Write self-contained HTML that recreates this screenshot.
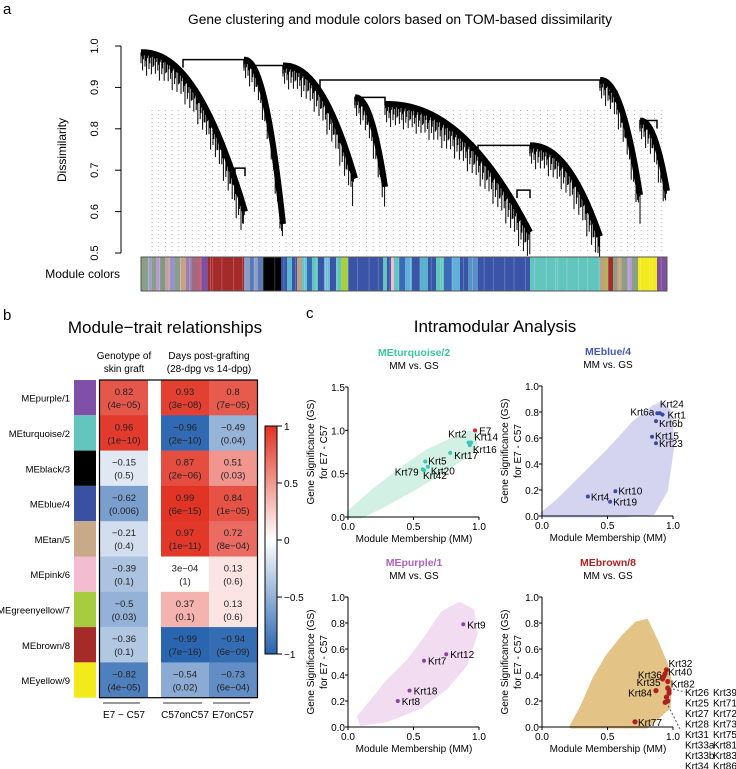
<!DOCTYPE html>
<html><head><meta charset="utf-8"><style>
html,body{margin:0;padding:0;background:#fff}
svg{display:block;font-family:"Liberation Sans",sans-serif}
</style></head><body>
<svg id="fig" width="736" height="769" viewBox="0 0 736 769" xmlns="http://www.w3.org/2000/svg">
<g id="panelA">
 <text x="3" y="14" font-size="15">a</text>
 <text x="400" y="24" font-size="13.5" text-anchor="middle" textLength="424" lengthAdjust="spacingAndGlyphs">Gene clustering and module colors based on TOM-based dissimilarity</text>
 <text transform="translate(66,150) rotate(-90)" font-size="12" text-anchor="middle">Dissimilarity</text>
 <text x="120" y="278" font-size="12" text-anchor="end">Module colors</text>
 <g id="dendAxis"></g><g id="dotted"></g><g id="dend"></g><g id="modbar"></g>
</g>
<g id="panelB">
 <text x="3" y="320" font-size="15">b</text>
 <text x="165" y="333" font-size="17" text-anchor="middle">Module−trait relationships</text>
 <text x="124" y="359" font-size="10" text-anchor="middle">Genotype of</text>
 <text x="124" y="372" font-size="10" text-anchor="middle">skin graft</text>
 <text x="209" y="359" font-size="10" text-anchor="middle">Days post-grafting</text>
 <text x="209" y="372" font-size="10" text-anchor="middle">(28-dpg vs 14-dpg)</text>
 <g id="heat"></g><g id="cbar"></g>
</g>
<g id="panelC">
 <text x="306" y="318" font-size="15">c</text>
 <text x="495" y="332" font-size="17" text-anchor="middle">Intramodular Analysis</text>
 <g id="scatters"></g>
</g>
</svg>
<script>
// ---------- Dendrogram data ----------
const dendTicks=[0.5,0.6,0.7,0.8,0.9,1.0];
const clusterX0=[141,244,283,355,385,530,600,640];
const clusterX1=[245,283,355,385,530,600,640,667];
const clusterTop=[0.985,0.967,0.953,0.876,0.86,0.76,0.918,0.82];
const clusterBot=[0.60,0.57,0.68,0.66,0.55,0.54,0.64,0.65];
const mergeXa=[183,255,320,355,478,517,610,640,235];
const mergeXb=[244,283,600,385,530,530,617,657,245];
const mergeH=[0.967,0.953,0.918,0.876,0.76,0.652,0.89,0.82,0.705];
const modStart=[141,148,152,156,160,165,170,175,180,186,192,197,201,208,244,250,254,258,263,281,287,292,297,302,307,312,318,324,330,336,341,348,383,387,391,394,399,405,412,420,428,436,444,452,460,468,478,530,600,604,608,613,617,622,627,632,638,657];
const modColor=["#8aa084","#9fa0c8","#8aa084","#b99ad0","#7f9a80","#c0a0a0","#9b92c8","#85a08a","#c9a08a","#9a80b0","#a06a80","#c06070","#7f4fa0","#a52a2a","#8a9ec8","#5a78b8","#8a9ec8","#5a78b8","#000000","#3a55a8","#5cb8d0","#3a55a8","#c0a080","#62c6d0","#3a6ab8","#62c6be","#3a55a8","#70b8d8","#3a55a8","#62c6be","#a8d040","#3a55a8","#62c6be","#3a55a8","#f4bcd0","#62c6be","#3a6ab8","#62b0d8","#3a55a8","#5cb0d0","#3a55a8","#62c6be","#3a6ab8","#62b0d8","#3a55a8","#5a90c8","#3a55a8","#62c6be","#c0a080","#b0b060","#a52a2a","#8aa084","#c0a080","#8aa084","#b99ad0","#8aa084","#f2ea1a","#7f4fa0"];

// ---------- Heatmap data ----------
const modules=["MEpurple/1","MEturquoise/2","MEblack/3","MEblue/4","MEtan/5","MEpink/6","MEgreenyellow/7","MEbrown/8","MEyellow/9"];
const moduleSwatch=["#8050a8","#62c6be","#000000","#3a50a0","#c8aa88","#f4bcd0","#a8cc40","#a52a2a","#f2ea1a"];
const traits=["E7 − C57","C57onC57","E7onC57"];
const corrE7=[0.82,0.96,-0.15,-0.62,-0.21,-0.39,-0.5,-0.36,-0.82];
const corrC57=[0.93,-0.96,0.87,0.99,0.97,0.0003,0.37,-0.99,-0.54];
const corrE7on=[0.8,-0.49,0.51,0.84,0.72,0.13,0.13,-0.94,-0.73];
const labE7=["0.82","0.96","−0.15","−0.62","−0.21","−0.39","−0.5","−0.36","−0.82"];
const labC57=["0.93","−0.96","0.87","0.99","0.97","3e−04","0.37","−0.99","−0.54"];
const labE7on=["0.8","−0.49","0.51","0.84","0.72","0.13","0.13","−0.94","−0.73"];
const pE7=["(4e−05)","(1e−10)","(0.5)","(0.006)","(0.4)","(0.1)","(0.03)","(0.1)","(4e−05)"];
const pC57=["(3e−08)","(2e−10)","(2e−06)","(6e−15)","(1e−11)","(1)","(0.1)","(7e−16)","(0.02)"];
const pE7on=["(7e−05)","(0.04)","(0.03)","(1e−05)","(8e−04)","(0.6)","(0.6)","(6e−09)","(6e−04)"];
const cbarTicks=[1,0.5,0,-0.5,-1];
const cbarLabels=["1","0.5","0","−0.5","−1"];

// ---------- Scatter data ----------
const turqName=["E7","Krt2","Krt14","Krt16","Krt17","Krt5","Krt20","Krt79","Krt42"];
const turqMM=[0.97,0.92,0.94,0.93,0.78,0.59,0.61,0.57,0.58];
const turqGS=[1.0,0.86,0.86,0.83,0.74,0.64,0.58,0.55,0.54];
const blueName=["Krt24","Krt6a","Krt1","Krt6b","Krt15","Krt23","Krt10","Krt4","Krt19"];
const blueMM=[0.9,0.88,0.92,0.87,0.84,0.87,0.56,0.35,0.52];
const blueGS=[0.79,0.79,0.78,0.73,0.61,0.56,0.19,0.15,0.11];
const purpName=["Krt9","Krt12","Krt7","Krt18","Krt8"];
const purpMM=[0.88,0.75,0.58,0.47,0.38];
const purpGS=[0.79,0.56,0.51,0.28,0.2];
const brownName=["Krt32","Krt40","Krt82","Krt36","Krt35","Krt84","Krt77","","","","","",""];
const brownMM=[0.95,0.94,0.96,0.93,0.92,0.87,0.71,0.96,0.97,0.95,0.96,0.94,0.97];
const brownGS=[0.44,0.41,0.35,0.39,0.37,0.28,0.04,0.30,0.26,0.23,0.20,0.19,0.28];
const brownList=["Krt26","Krt25","Krt27","Krt28","Krt31","Krt33a","Krt33b","Krt34","Krt39","Krt71","Krt72","Krt73","Krt75","Krt81","Krt83","Krt86"];
const turqCloudMM=[0.0,0.1,0.3,0.5,0.7,0.9,0.97,0.98,0.9,0.8,0.6,0.4,0.2,0.05,0.0];
const turqCloudGS=[0.0,0.0,0.15,0.32,0.5,0.7,0.8,0.98,0.97,0.9,0.76,0.55,0.32,0.12,0.05];
const blueCloudMM=[0.02,0.3,0.6,0.85,0.95,1.0,0.98,0.92,0.85,0.7,0.5,0.3,0.12,0.0];
const blueCloudGS=[0.0,0.0,0.0,0.02,0.2,0.55,0.8,0.87,0.84,0.72,0.5,0.3,0.12,0.02];
const purpCloudMM=[0.1,0.3,0.55,0.75,0.9,0.98,0.95,0.85,0.72,0.6,0.45,0.3,0.18,0.08];
const purpCloudGS=[0.02,0.05,0.15,0.3,0.48,0.72,0.9,0.95,0.88,0.7,0.5,0.35,0.2,0.08];
const brownCloudMM=[0.22,0.5,0.8,0.97,0.98,0.95,0.88,0.8,0.72,0.62,0.5,0.4,0.3];
const brownCloudGS=[0.0,0.0,0.0,0.15,0.35,0.48,0.65,0.82,0.8,0.7,0.55,0.38,0.15];

const NS="http://www.w3.org/2000/svg";
function mk(tag,attrs,parent,txt){const e=document.createElementNS(NS,tag);for(const k in attrs)e.setAttribute(k,attrs[k]);if(txt!==undefined)e.textContent=txt;parent.appendChild(e);return e;}

// ---------- Dendrogram ----------
const dy=h=>46+(1-h)/0.5*207;
const gAx=document.getElementById('dendAxis');
let ax=mk('line',{x1:121,x2:121,y1:dy(1),y2:dy(0.5),stroke:'#000'},gAx);


dendTicks.forEach(t=>{
 let l=mk('line',{x1:115,x2:121,y1:dy(t),y2:dy(t),stroke:'#000'},gAx);
 
 
 let tx=mk('text',{transform:`translate(98,${dy(t)}) rotate(-90)`,'font-size':11,'text-anchor':'middle'},gAx,t.toFixed(1));
 
 
});
const gDot=document.getElementById('dotted');
for(let x=152;x<=667;x+=6.7){
 let l=mk('line',{x1:x,x2:x,y1:110,y2:252,stroke:'#888','stroke-width':0.6,'stroke-dasharray':'1,3'},gDot);
 
 
}
const gD=document.getElementById('dend');
const spikes=[22,8,36,14,5,28,17,45,11,4,31,20,9,40,6,25];
clusterX0.forEach((x0,i)=>{
 const x1=clusterX1[i],h0=clusterTop[i],h1=clusterBot[i];
 const hc=t=>h0-(h0-h1)*Math.pow(t,2.2);
 let d='',k=0;
 for(let x=x0;x<=x1;x+=0.8){const t=(x-x0)/(x1-x0);const y=dy(hc(t));d+=`M${x.toFixed(1)},${y.toFixed(1)}v${(spikes[k++%spikes.length]*(0.5+t*0.3)).toFixed(1)}`;}
 let sp=mk('path',{d,stroke:'#000','stroke-width':1,fill:'none'},gD);
 
 
 let c='';for(let x=x0;x<=x1;x+=1){const t=(x-x0)/(x1-x0);c+=(x===x0?'M':'L')+x+','+dy(hc(t)).toFixed(1);}
 let cp=mk('path',{d:c,stroke:'#000','stroke-width':6,fill:'none'},gD);
 
 
});
mergeXa.forEach((xa,i)=>{
 let l=mk('path',{d:`M${xa},${dy(mergeH[i])+8}V${dy(mergeH[i])}H${mergeXb[i]}V${dy(mergeH[i])+8}`,stroke:'#000','stroke-width':1.5,fill:'none'},gD);
 
 
});
const gM=document.getElementById('modbar');
modStart.forEach((x,i)=>{
 const xe=i<modStart.length-1?modStart[i+1]:667;
 let r=mk('rect',{x,y:257,width:xe-x,height:34,fill:modColor[i]},gM);
 
 
});
for(let x=141;x<667;x+=2.3){if((x*7)%5<1.2){let s=mk('rect',{x,y:257,width:0.8,height:34,fill:'rgba(255,255,255,0.25)'},gM);}}
let fr=mk('rect',{x:141,y:257,width:526,height:34,fill:'none',stroke:'#555','stroke-width':1},gM);



// ---------- Heatmap ----------
function col(v){const a=Math.abs(v);const [r,g,b]=v>=0?[225,50,35]:[40,100,175];return `rgb(${Math.round(255+(r-255)*a)},${Math.round(255+(g-255)*a)},${Math.round(255+(b-255)*a)})`;}
const gH=document.getElementById('heat');
const top0=380,rh=35.3;
const colX=[100,161,209],colW=[48,48,48];
const vals=[corrE7,corrC57,corrE7on],labs=[labE7,labC57,labE7on],ps=[pE7,pC57,pE7on];
modules.forEach((m,r)=>{
 const y=top0+r*rh;
 let sw=mk('rect',{x:74,y,width:22,height:rh,fill:moduleSwatch[r]},gH);
 
 
 let t=mk('text',{x:70,y:y+rh/2+4,'font-size':9.5,'text-anchor':'end'},gH,m);
 
 
 for(let c=0;c<3;c++){
  let cell=mk('rect',{x:colX[c],y,width:colW[c],height:rh+0.3,fill:col(vals[c][r])},gH);
  
  
  const cx=colX[c]+colW[c]/2;
  let a=mk('text',{x:cx,y:y+15,'font-size':9.5,'text-anchor':'middle',fill:'#222'},gH,labs[c][r]);
  
  
  let b=mk('text',{x:cx,y:y+28,'font-size':9.5,'text-anchor':'middle',fill:'#222'},gH,ps[c][r]);
  
  
 }
});
let hb=mk('rect',{x:99.5,y:top0,width:158,height:rh*9,fill:'none',stroke:'#000','stroke-width':1.2},gH);


const uX=[103,163,213],uW=[37,39,37];
traits.forEach((tr,i)=>{
 let l=mk('line',{x1:uX[i],x2:uX[i]+uW[i],y1:703,y2:703,stroke:'#333'},gH);
 
 
 let t=mk('text',{x:colX[i]+24,y:718,'font-size':10,'text-anchor':'middle'},gH,tr);
 
 
});
const gC=document.getElementById('cbar');
const defs=mk('defs',{},gC);
const lg=mk('linearGradient',{id:'cg',x1:0,y1:0,x2:0,y2:1},defs);
mk('stop',{offset:'0','stop-color':col(1)},lg);mk('stop',{offset:'0.5','stop-color':'#fff'},lg);mk('stop',{offset:'1','stop-color':col(-1)},lg);
const cy=v=>540-v*114;
let cb=mk('rect',{x:265,y:cy(1),width:12,height:228,fill:'url(#cg)',stroke:'#000','stroke-width':1},gC);


cbarTicks.forEach((v,i)=>{
 let l=mk('line',{x1:277,x2:282,y1:cy(v),y2:cy(v),stroke:'#000'},gC);
 
 
 let t=mk('text',{x:284,y:cy(v)+4,'font-size':10},gC,cbarLabels[i]);
 
 
});

// ---------- Scatter plots ----------
const gS=document.getElementById('scatters');
function scatter(o){
 const g=mk('g',{},gS);
 
 
 const sx=v=>o.ox+v*131, sy=v=>o.oy-v/o.ymax*130;
 const cx=o.ox+66;
 let t1=mk('text',{x:cx,y:o.oy-161,'font-size':10.5,'font-weight':'bold','text-anchor':'middle',fill:o.tcol},g,o.title);
 
 
 let t2=mk('text',{x:cx,y:o.oy-148,'font-size':10,'text-anchor':'middle'},g,'MM vs. GS');
 
 
 let pts=o.cmm.map((m,i)=>sx(m).toFixed(1)+','+sy(o.cgs[i]).toFixed(1)).join(' ');
 let cl=mk('polygon',{points:pts,fill:o.ccol,stroke:o.ccol,'stroke-width':3,'stroke-linejoin':'round'},g);
 
 
 let xa=mk('path',{d:`M${o.ox},${o.oy}H${sx(1)}`,stroke:'#000',fill:'none'},g);
 
 
 let ya=mk('path',{d:`M${o.ox},${o.oy}V${sy(o.ymax)}`,stroke:'#000',fill:'none'},g);
 
 
 [0,0.5,1].forEach(v=>{
  let l=mk('line',{x1:sx(v),x2:sx(v),y1:o.oy,y2:o.oy+3,stroke:'#000'},g);
  
  
  let t=mk('text',{x:sx(v),y:o.oy+13,'font-size':10,'text-anchor':'middle'},g,v.toFixed(1));
  
  
 });
 o.yt.forEach(v=>{
  let l=mk('line',{x1:o.ox-3,x2:o.ox,y1:sy(v),y2:sy(v),stroke:'#000'},g);
  
  
  let t=mk('text',{x:o.ox-3,y:sy(v)+4,'font-size':10,'text-anchor':'end'},g,v.toFixed(1));
  
  
 });
 let xl=mk('text',{x:cx,y:o.oy+25,'font-size':10,'text-anchor':'middle'},g,'Module Membership (MM)');
 
 
 let yl=mk('text',{transform:`translate(${o.ox-34},${o.oy-65}) rotate(-90)`,'font-size':10,'text-anchor':'middle'},g,'Gene Significance (GS)');
 
 
 let yl2=mk('text',{transform:`translate(${o.ox-21},${o.oy-65}) rotate(-90)`,'font-size':10,'text-anchor':'middle'},g,'for E7 - C57');
 
 
 o.mm.forEach((m,i)=>{
  let p=mk('circle',{cx:sx(m),cy:sy(o.gs[i]),r:o.r||2,fill:(o.pcols&&o.pcols[i])||o.pcol},g);
  
  
  if(o.names[i]){
   const off=(o.offs&&o.offs[i])||[4,4];
   let t=mk('text',{x:sx(m)+off[0],y:sy(o.gs[i])+off[1],'font-size':10,'text-anchor':off[2]||'start'},g,o.names[i]);
   
   
  }
 });
 return {g,sx,sy};
}
scatter({name:'turquoise-scatter',title:'MEturquoise/2',tcol:'#3cc6a0',ox:348,oy:517,ymax:1.5,yt:[0,0.5,1,1.5],cmm:turqCloudMM,cgs:turqCloudGS,ccol:'#d2f0e4',mm:turqMM,gs:turqGS,names:turqName,pcol:'#3cc6b8',pcols:['#e02020'],
 offs:[[4,4],[-2,-5,'end'],[3,-2],[3,8],[4,6],[3,3],[3,8],[-4,6,'end'],[-1,9]]});
scatter({name:'blue-scatter',title:'MEblue/4',tcol:'#4858b0',ox:542,oy:516,ymax:1,yt:[0,0.2,0.4,0.6,0.8,1.0],cmm:blueCloudMM,cgs:blueCloudGS,ccol:'#d4d4f0',mm:blueMM,gs:blueGS,names:blueName,pcol:'#3a4aa8',
 offs:[[0,-6],[-3,2,'end'],[5,4],[3,6],[3,3],[3,4],[3,3],[3,4],[3,4]]});
scatter({name:'purple-scatter',title:'MEpurple/1',tcol:'#b060c0',ox:348,oy:727,ymax:1,yt:[0,0.2,0.4,0.6,0.8,1.0],cmm:purpCloudMM,cgs:purpCloudGS,ccol:'#f2dcf2',mm:purpMM,gs:purpGS,names:purpName,pcol:'#9040a0'});
const br=scatter({name:'brown-scatter',title:'MEbrown/8',tcol:'#b02020',ox:542,oy:727,ymax:1,yt:[0,0.2,0.4,0.6,0.8,1.0],cmm:brownCloudMM,cgs:brownCloudGS,ccol:'#e4c386',mm:brownMM,gs:brownGS,names:brownName,pcol:'#b02020',r:2.6,
 offs:[[2,-3],[3,2],[3,6],[-2,2,'end'],[-2,7,'end'],[-4,6,'end'],[3,4]]});
brownList.forEach((n,i)=>{
 let t=mk('text',{x:i<8?685:713,y:696+(i%8)*10.5,'font-size':10},br.g,n);
 
 
});
let ld=mk('path',{d:`M${br.sx(0.97)},${br.sy(0.3)}L685,692M${br.sx(0.95)},${br.sy(0.19)}L681,731`,stroke:'#555','stroke-dasharray':'2,2',fill:'none'},br.g);


</script>
</body></html>
